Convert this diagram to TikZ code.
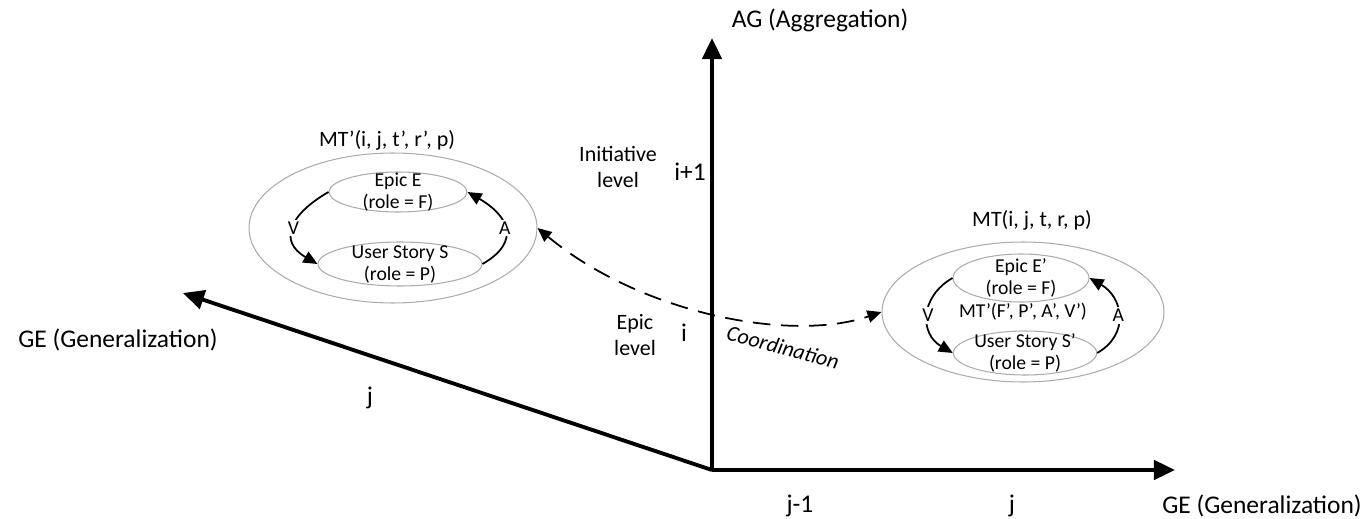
\documentclass[tikz,border=0pt]{standalone}
\usepackage{fontspec}
\setmainfont{Carlito}
\usetikzlibrary{arrows.meta,shapes.geometric}

\begin{document}
\begin{tikzpicture}[x=0.02cm, y=0.02cm,
    axis/.style={line width=2.2pt, -{Triangle[length=12pt, width=11pt]}},
    outer/.style={ellipse, draw=gray!65, line width=0.6pt, inner sep=0pt},
    inner/.style={ellipse, draw=gray!65, line width=0.6pt, inner xsep=0pt, inner ysep=-3.3pt,
        align=center, font=\fontsize{11.2}{12.5}\selectfont},
    flow/.style={line width=1pt, -{Triangle[length=8pt, width=7pt]}},
    coord/.style={line width=1pt, dash pattern=on 10pt off 6pt,
        {Triangle[length=8pt, width=7pt]}-{Triangle[length=8pt, width=7pt]}},
    lbl/.style={fill=white, inner sep=1pt, font=\fontsize{11.2}{12.5}\selectfont},
    big/.style={font=\fontsize{14.5}{16}\selectfont},
    mid/.style={font=\fontsize{12.5}{14.5}\selectfont, align=center},
]
    \useasboundingbox (0,0) rectangle (1366,518);

    % Axes
    \coordinate (o) at (712,48);
    \coordinate (agtip) at (712,480);
    \coordinate (getip) at (1175,48);
    \coordinate (diagtip) at (183,225);
    \draw[axis] (o) -- (agtip);
    \draw[axis] (o) -- (getip);
    \draw[axis] (o) -- (diagtip);

    \node[big] (aglabel) at (820,498) {AG (Aggregation)};
    \node[big] (gelabel) at (1262,12) {GE (Generalization)};
    \node[big] (jm) at (800,12) {j-1};
    \node[big] (jr) at (1012,12) {j};
    \node[big] (gediag) at (118,178) {GE (Generalization)};
    \node[big] (jd) at (370,120) {j};

    % Levels
    \node[mid] (initlevel) at (618,351) {Initiative\\level};
    \node[big] (ione) at (690,346) {i+1};
    \node[mid] (epiclevel) at (635,183) {Epic\\level};
    \node[big] (izero) at (684,185) {i};

    % MT' (left)
    \node[outer, minimum width=5.76cm, minimum height=3cm] (mtl) at (393,290) {};
    \node[mid] (mtllabel) at (387,378) {MT’(i, j, t’, r’, p)};
    \node[inner, minimum width=2.76cm, minimum height=0.8cm] (epicl) at (398,326) {Epic E\\(role = F)};
    \node[inner, minimum width=3.28cm, minimum height=0.88cm] (storyl) at (400,254) {User Story S\\(role = P)};
    \draw[flow] (epicl.west) to[out=210, in=150, looseness=1.6] node[lbl] {V} (storyl.west);
    \draw[flow] (storyl.east) to[out=30, in=-30, looseness=1.6] node[lbl] {A} (epicl.east);

    % MT (right)
    \node[outer, minimum width=5.64cm, minimum height=2.8cm] (mtr) at (1023,206) {};
    \node[mid] (mtrlabel) at (1032,298) {MT(i, j, t, r, p)};
    \node[inner, minimum width=2.72cm, minimum height=0.96cm] (epicr) at (1021,240) {Epic E’\\(role = F)};
    \node[inner, minimum width=2.8cm, minimum height=0.88cm] (storyr) at (1025,165) {User Story S’\\(role = P)};
    \node[lbl, fill=none] (mtinner) at (1023,206) {MT’(F’, P’, A’, V’)};
    \draw[flow] (epicr.west) to[out=210, in=150, looseness=1.3] node[lbl] {V} (storyr.west);
    \draw[flow] (storyr.east) to[out=30, in=-30, looseness=1.3] node[lbl] {A} (epicr.east);

    % Coordination
    \draw[coord] (mtl.east) .. controls (640,205) and (790,175) .. (mtr.west);
    \node[mid, font=\fontsize{12.5}{14.5}\selectfont\itshape, rotate=-15] (coordlabel) at (783,171) {Coordination};
\end{tikzpicture}
\end{document}
